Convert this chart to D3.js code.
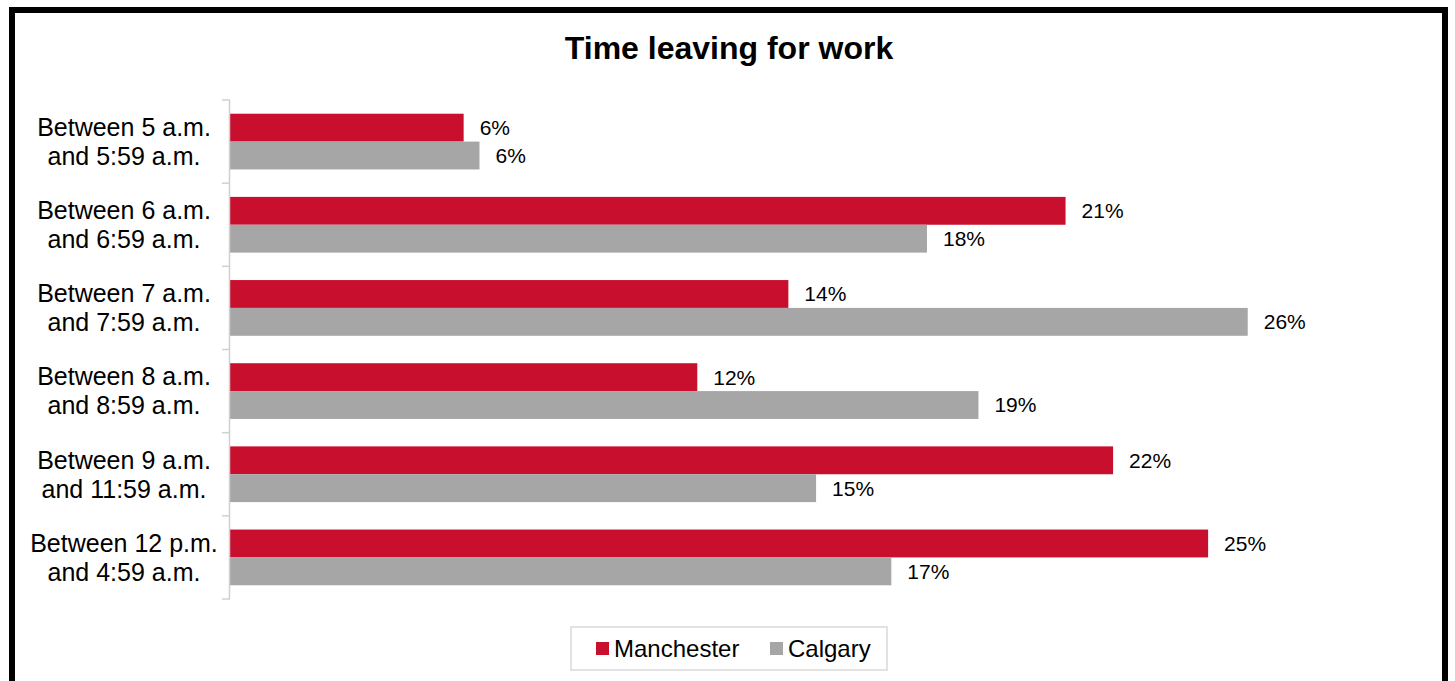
<!DOCTYPE html>
<html><head><meta charset="utf-8">
<script src="https://cdn.jsdelivr.net/npm/d3@7"></script>
<style>body{margin:0;background:#fff;}svg{display:block;font-family:"Liberation Sans",Arial,sans-serif;}</style>
</head><body>
<script>
const categories = [
  ["Between 5 a.m.", "and 5:59 a.m."],
  ["Between 6 a.m.", "and 6:59 a.m."],
  ["Between 7 a.m.", "and 7:59 a.m."],
  ["Between 8 a.m.", "and 8:59 a.m."],
  ["Between 9 a.m.", "and 11:59 a.m."],
  ["Between 12 p.m.", "and 4:59 a.m."]
];
const seriesNames = ["Manchester", "Calgary"];
const manchester = [5.9, 21.1, 14.1, 11.8, 22.3, 24.7];
const calgary = [6.3, 17.6, 25.7, 18.9, 14.8, 16.7];
const colors = ["#C8102E", "#A6A6A6"];
const chartTitle = "Time leaving for work";

(function () {
const W = 1455, H = 681;
const svg = d3.select("body").append("svg").attr("width", W).attr("height", H);
svg.append("rect").attr("width", W).attr("height", H).attr("fill", "#fff");
svg.append("rect").attr("x", 12).attr("y", 10).attr("width", 1433).attr("height", 720)
  .attr("fill", "none").attr("stroke", "#000").attr("stroke-width", 6);

svg.append("text").attr("x", 729).attr("y", 59).attr("text-anchor", "middle")
  .attr("font-size", 32).attr("font-weight", "bold").text(chartTitle);

const pLeft = 230, pTop = 100, pBottom = 599;
const x = d3.scaleLinear().domain([0, 30]).range([pLeft, pLeft + 30 * 39.6]);
const idx = categories.map((d, i) => i);
const y = d3.scaleBand().domain(idx).range([pTop, pBottom]).paddingInner(0.33).paddingOuter(0.165);
const sub = d3.scaleBand().domain([0, 1]).range([0, y.bandwidth()]);
const data = [manchester, calgary];

const g = svg.append("g");
data.forEach((vals, s) => {
  g.selectAll(".b" + s).data(vals).enter().append("rect")
    .attr("x", x(0)).attr("y", (d, i) => y(i) + sub(s))
    .attr("width", d => x(d) - x(0)).attr("height", sub.bandwidth())
    .attr("fill", colors[s]);
  g.selectAll(".l" + s).data(vals).enter().append("text")
    .attr("x", d => x(d) + 16).attr("y", (d, i) => y(i) + sub(s) + sub.bandwidth() / 2)
    .attr("dy", "0.35em").attr("font-size", 21).attr("fill", "#000")
    .text(d => Math.round(d) + "%");
});

const axisCol = "#D0D0D0";
g.append("line").attr("x1", pLeft - 0.5).attr("x2", pLeft - 0.5).attr("y1", pTop).attr("y2", pBottom)
  .attr("stroke", axisCol).attr("stroke-width", 1.5);
const step = (pBottom - pTop) / categories.length;
d3.range(categories.length + 1).forEach(k => {
  g.append("line").attr("x1", pLeft - 8).attr("x2", pLeft).attr("y1", pTop + k * step).attr("y2", pTop + k * step)
    .attr("stroke", axisCol).attr("stroke-width", 1.5);
});
categories.forEach((lines, i) => {
  const cy = pTop + (i + 0.5) * step;
  const t = g.append("text").attr("x", 124).attr("text-anchor", "middle").attr("font-size", 25);
  lines.forEach((ln, j) => {
    t.append("tspan").attr("x", 124).attr("y", cy + (j - 0.5) * 29).attr("dy", "0.35em").text(ln);
  });
});

const lg = svg.append("g");
lg.append("rect").attr("x", 571).attr("y", 627).attr("width", 316).attr("height", 43)
  .attr("fill", "#fff").attr("stroke", "#D9D9D9").attr("stroke-width", 1.5);
const legX = [596, 770];
seriesNames.forEach((n, s) => {
  lg.append("rect").attr("x", legX[s]).attr("y", 642).attr("width", 13).attr("height", 13).attr("fill", colors[s]);
  lg.append("text").attr("x", legX[s] + 18).attr("y", 657).attr("font-size", 24).text(n);
});
})();
</script>
</body></html>
